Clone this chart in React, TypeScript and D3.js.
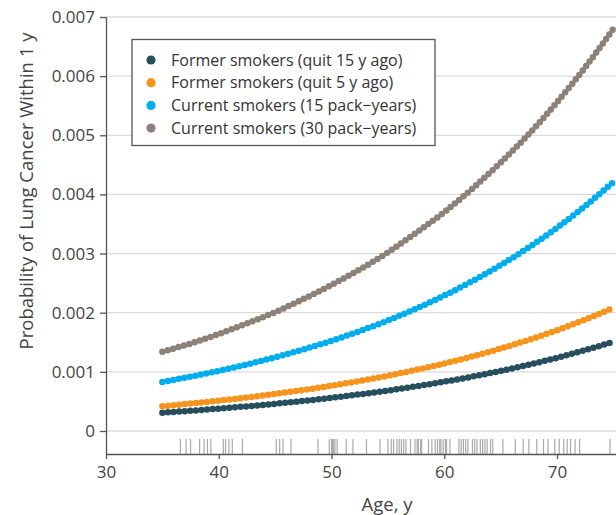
import React, { useEffect, useRef } from 'react';
import * as d3 from 'd3';

const ages = [35, 37.5, 40, 42.5, 45, 47.5, 50, 52.5, 55, 57.5, 60, 62.5, 65, 67.5, 70, 72.5, 75];

const formerQuit15 = [0.00031, 0.000342, 0.000378, 0.000417, 0.00046, 0.000508, 0.000561, 0.00062, 0.000684, 0.000755, 0.000834, 0.00092, 0.001016, 0.001122, 0.001238, 0.001367, 0.001509];
const formerQuit5 = [0.00042, 0.000464, 0.000513, 0.000567, 0.000627, 0.000693, 0.000766, 0.000846, 0.000935, 0.001034, 0.001142, 0.001262, 0.001395, 0.001542, 0.001704, 0.001884, 0.002082];
const current15 = [0.00083, 0.000919, 0.001017, 0.001125, 0.001246, 0.001379, 0.001526, 0.001689, 0.001869, 0.002069, 0.00229, 0.002535, 0.002805, 0.003105, 0.003437, 0.003804, 0.00421];
const current30 = [0.00134, 0.00148, 0.00164, 0.00182, 0.00201, 0.00223, 0.00247, 0.00273, 0.00302, 0.00335, 0.0037, 0.0041, 0.00454, 0.00502, 0.00556, 0.00615, 0.0068];

const seriesNames = [
  'Former smokers (quit 15 y ago)',
  'Former smokers (quit 5 y ago)',
  'Current smokers (15 pack−years)',
  'Current smokers (30 pack−years)',
];
const seriesColors = ['#264e5c', '#f7941d', '#00aeef', '#8c8277'];

// ages of individual cases shown as a rug along the x axis
const rugAges = [
  36.6, 37.1, 37.5, 38.3, 38.7, 39.0, 39.3, 40.4, 40.6, 40.9, 41.2, 42.1,
  45.1, 45.4, 45.7, 46.4, 48.8, 49.8, 50.0, 50.1, 50.2, 50.3, 50.5, 51.3, 51.9,
  53.1, 54.3, 55.0, 55.3, 55.5, 55.8, 56.0, 56.2, 56.4, 56.6, 57.0, 57.4, 57.6,
  57.7, 57.9, 58.0, 58.6, 58.9, 59.2, 59.4, 59.6, 59.7, 59.9, 60.1, 60.2, 60.5,
  61.3, 61.5, 61.7, 61.9, 62.1, 62.5, 62.7, 62.9, 63.2, 63.4, 63.6, 63.8, 64.1,
  64.3, 65.2, 66.3, 67.0, 67.5, 68.2, 68.8, 69.2, 69.8, 70.2, 70.6, 70.9, 71.2,
  71.6, 72.0, 74.7,
];

const xTicks = [30, 40, 50, 60, 70];
const yTicks = [0, 0.001, 0.002, 0.003, 0.004, 0.005, 0.006, 0.007];

const W = 616;
const H = 515;
const FONT = '"Open Sans", Lato, sans-serif';

export default function App() {
  const ref = useRef<SVGSVGElement>(null);

  useEffect(() => {
    if (!ref.current) return;
    const svg = d3.select(ref.current);
    svg.selectAll('*').remove();

    const x = d3.scaleLinear().domain([30, 75.23]).range([106, W]);
    const y = d3.scaleLinear().domain([-0.000389, 0.007]).range([454, 17]);

    // gridlines
    svg.append('g')
      .selectAll('line')
      .data(yTicks)
      .enter()
      .append('line')
      .attr('x1', 106)
      .attr('x2', W)
      .attr('y1', d => y(d))
      .attr('y2', d => y(d))
      .attr('stroke', '#dcdcdc')
      .attr('stroke-width', 1.3);

    // rug
    svg.append('g')
      .selectAll('line')
      .data(rugAges)
      .enter()
      .append('line')
      .attr('x1', d => x(d))
      .attr('x2', d => x(d))
      .attr('y1', 439)
      .attr('y2', 454)
      .attr('stroke', '#a9a9a9')
      .attr('stroke-width', 1.2);

    // axes
    const yAxis = d3.axisLeft(y)
      .tickValues(yTicks)
      .tickSize(6)
      .tickPadding(5)
      .tickFormat(d => (+d === 0 ? '0' : d3.format('.3f')(+d)));
    const gy = svg.append('g').attr('transform', 'translate(106,0)').call(yAxis);

    const xAxis = d3.axisBottom(x).tickValues(xTicks).tickSize(5).tickPadding(7).tickSizeOuter(0);
    const gx = svg.append('g').attr('transform', 'translate(0,454)').call(xAxis);

    [gx, gy].forEach(g => {
      g.select('.domain').attr('stroke', '#555').attr('stroke-width', 1.3);
      g.selectAll('.tick line').attr('stroke', '#555').attr('stroke-width', 1.3);
      g.selectAll('.tick text')
        .attr('fill', '#444')
        .style('font-family', FONT)
        .style('font-size', '17px');
    });
    gy.select('.domain').attr('d', 'M0.5,17V454');

    // axis titles
    svg.append('text')
      .attr('transform', 'translate(33,191) rotate(-90)')
      .attr('text-anchor', 'middle')
      .attr('fill', '#444')
      .style('font-family', FONT)
      .style('font-size', '18.5px')
      .text('Probability of Lung Cancer Within 1 y');

    svg.append('text')
      .attr('x', 387)
      .attr('y', 511)
      .attr('text-anchor', 'middle')
      .attr('fill', '#444')
      .style('font-family', FONT)
      .style('font-size', '18.5px')
      .text('Age, y');

    // curves, drawn as dotted lines
    const allSeries = [formerQuit15, formerQuit5, current15, current30];
    const line = d3.line<number>()
      .x((_, i) => x(ages[i]))
      .y(d => y(d))
      .curve(d3.curveMonotoneX);

    svg.append('g')
      .selectAll('path')
      .data(allSeries)
      .enter()
      .append('path')
      .attr('d', d => line(d))
      .attr('fill', 'none')
      .attr('stroke', (_, i) => seriesColors[i])
      .attr('stroke-width', 6.5)
      .attr('stroke-linecap', 'round')
      .attr('stroke-dasharray', '0 5.6');

    // legend
    const lg = svg.append('g');
    lg.append('rect')
      .attr('x', 132)
      .attr('y', 39.5)
      .attr('width', 303)
      .attr('height', 106)
      .attr('fill', '#fff')
      .attr('stroke', '#555')
      .attr('stroke-width', 1.3);

    const items = lg.selectAll('g.item')
      .data(seriesNames)
      .enter()
      .append('g')
      .attr('class', 'item')
      .attr('transform', (_, i) => `translate(0,${60 + i * 22.7})`);
    items.append('circle')
      .attr('cx', 151)
      .attr('cy', 0)
      .attr('r', 4.6)
      .attr('fill', (_, i) => seriesColors[i]);
    items.append('text')
      .attr('x', 171)
      .attr('y', 0)
      .attr('dy', '0.35em')
      .attr('fill', '#333')
      .style('font-family', FONT)
      .style('font-size', '16px')
      .text(d => d);
  }, []);

  return (
    <svg
      ref={ref}
      width={W}
      height={H}
      style={{ position: 'absolute', left: 0, top: 0, background: '#fff' }}
    />
  );
}
